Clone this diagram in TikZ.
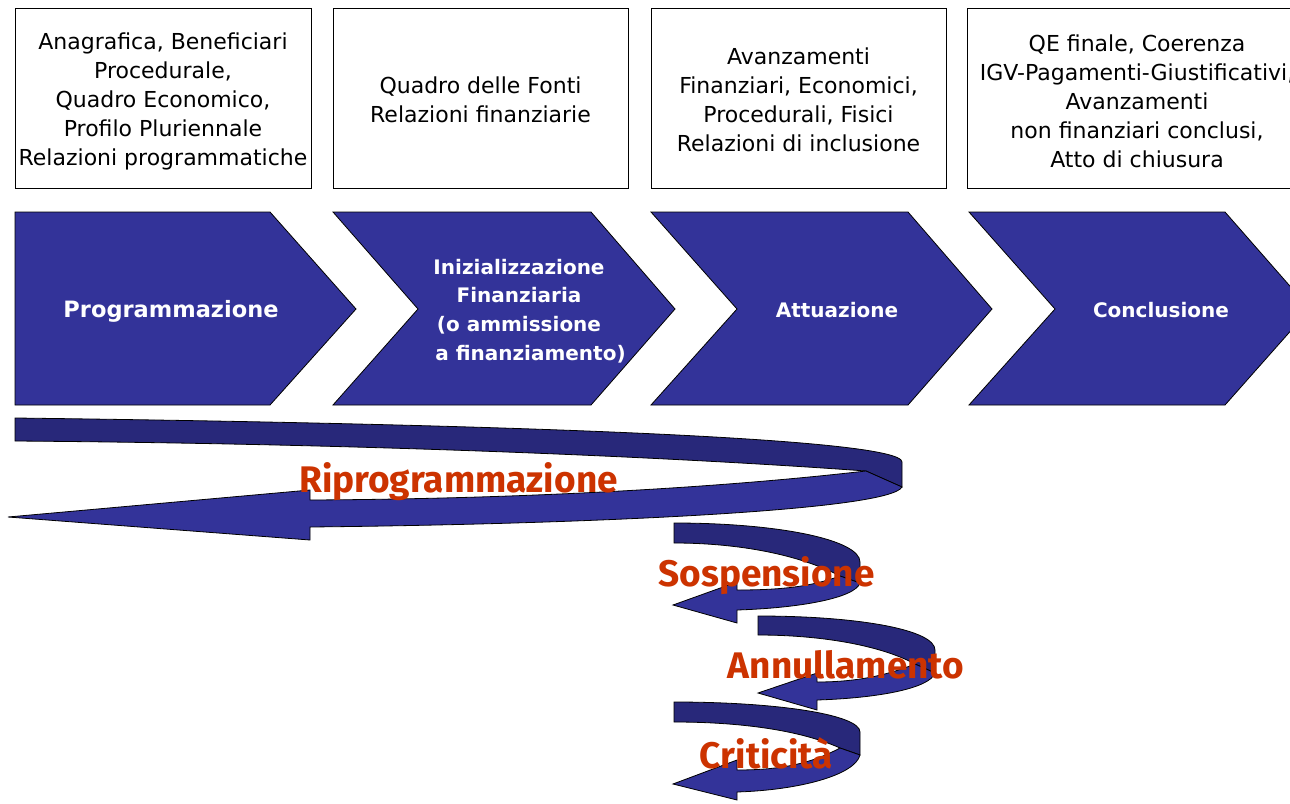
\documentclass[tikz,border=0pt]{standalone}
\usepackage{fontspec}
\setmainfont{DejaVu Sans}
\newfontfamily\labelfont{Fira Sans}
\definecolor{navy}{RGB}{51,51,153}
\definecolor{darknavy}{RGB}{40,40,122}
\definecolor{redtxt}{RGB}{204,51,0}
\tikzset{
  infobox/.style={draw, line width=1pt, fill=white},
  infotext/.style={align=center, font=\fontsize{22}{29}\selectfont, inner sep=0pt},
  chev/.style={fill=navy, draw=black, line width=0.8pt},
  ribbonback/.style={fill=darknavy, draw=black, line width=0.8pt},
  ribbonfront/.style={fill=navy, draw=black, line width=0.8pt},
  chevtext/.style={text=white, font=\bfseries\fontsize{20}{28.7}\selectfont, align=center},
  redlabel/.style={text=redtxt, font=\labelfont\bfseries\fontsize{37}{40}\selectfont},
}
\begin{document}
\begin{tikzpicture}[x=1pt,y=-1pt]
\clip (0,0) rectangle (1290,803);
\fill[white] (0,0) rectangle (1290,803);

% top boxes
\draw[infobox] (15,8) rectangle (311,188);
\draw[infobox] (333,8) rectangle (628,188);
\draw[infobox] (651,8) rectangle (946,188);
\draw[infobox] (967,8) rectangle (1307,188);
\node[infotext] (t1) at (163,101) {Anagrafica, Beneficiari\\Procedurale,\\Quadro Economico,\\Profilo Pluriennale\\Relazioni programmatiche};
\node[infotext] (t2) at (480.5,100) {Quadro delle Fonti\\Relazioni finanziarie};
\node[infotext] (t3) at (798.5,100) {Avanzamenti\\Finanziari, Economici,\\Procedurali, Fisici\\Relazioni di inclusione};
\node[infotext] (t4) at (1137,101) {QE finale, Coerenza\\IGV-Pagamenti-Giustificativi,\\Avanzamenti\\non finanziari conclusi,\\Atto di chiusura};

% chevrons
\draw[chev] (15,212) -- (270,212) -- (356,309) -- (270,405) -- (15,405) -- cycle;
\draw[chev] (333,212) -- (591,212) -- (675,309) -- (591,405) -- (333,405) -- (418,309) -- cycle;
\draw[chev] (651,212) -- (908,212) -- (992,309) -- (908,405) -- (651,405) -- (737,309) -- cycle;
\draw[chev] (969,212) -- (1225,212) -- (1310,309) -- (1225,405) -- (969,405) -- (1055,309) -- cycle;

\node[chevtext, font=\bfseries\fontsize{22.5}{29}\selectfont] (c1) at (171,311) {Programmazione};
\node[chevtext] (c2) at (519,311) {Inizializzazione\\Finanziaria\\(o ammissione\\\hspace*{23pt}a finanziamento)};
\node[chevtext] (c3) at (837,310) {Attuazione};
\node[chevtext] (c4) at (1161,310) {Conclusione};

% Riprogrammazione ribbon
\draw[ribbonback] (15,418) .. controls (500,424) and (902,438) .. (902,462) -- (902,487) -- (866,471) .. controls (700,459) and (400,444) .. (15,441) -- cycle;
\draw[ribbonfront] (866,471) .. controls (700,490) and (500,499) .. (310,500) -- (310,490) -- (8,517) -- (310,540) -- (310,527) .. controls (600,524) and (890,510) .. (902,487) -- cycle;
\node[redlabel] (r1) at (458.5,482) {Riprogrammazione};

% Sospensione
\draw[ribbonback] (674,523) .. controls (780,523) and (860,540) .. (860,562) -- (860,583) -- (840,576) .. controls (800,555) and (740,543) .. (674,543) -- cycle;
\draw[ribbonfront] (840,576) .. controls (810,587) and (780,590) .. (737,590) -- (737,582) -- (673,605) -- (737,623) -- (737,610) .. controls (800,608) and (855,598) .. (860,583) -- cycle;
\node[redlabel] (r2) at (766.5,576) {Sospensione};

% Annullamento
\draw[ribbonback] (758,616) .. controls (860,616) and (935,630) .. (935,650) -- (935,673) -- (915,664) .. controls (880,645) and (820,635) .. (758,635) -- cycle;
\draw[ribbonfront] (915,664) .. controls (885,676) and (855,682) .. (817,682) -- (817,673) -- (758,693) -- (817,710) -- (817,700) .. controls (880,698) and (930,688) .. (935,673) -- cycle;
\node[redlabel] (r3) at (846,665) {Annullamento};

% Criticita
\draw[ribbonback] (674,702) .. controls (780,702) and (860,715) .. (860,732) -- (860,755) -- (840,748) .. controls (800,730) and (740,722) .. (674,722) -- cycle;
\draw[ribbonfront] (840,748) .. controls (810,764) and (780,770) .. (737,770) -- (737,760) -- (673,784) -- (737,800) -- (737,792) .. controls (800,790) and (855,775) .. (860,755) -- cycle;
\node[redlabel] (r4) at (766.5,753) {Criticità};
\end{tikzpicture}
\end{document}
